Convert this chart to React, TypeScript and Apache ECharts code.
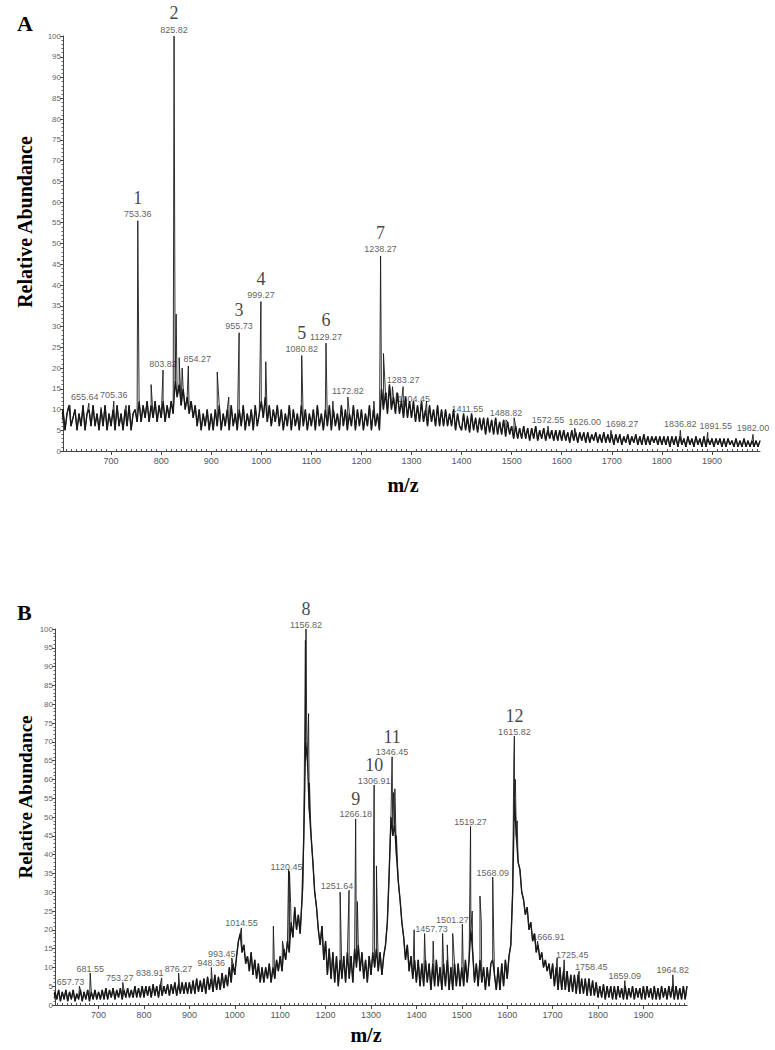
import React, { useEffect, useRef } from "react";
import * as echarts from "echarts";

// ---------- data ----------
const MZ_MIN = 604;
const MZ_MAX = 1996;
const BASE_START = 600; // baseline sampled every 4 m/z
const BASE_STEP = 4;
const X_TICKS = [700, 800, 900, 1000, 1100, 1200, 1300, 1400, 1500, 1600, 1700, 1800, 1900];
const Y_TICKS = [0, 5, 10, 15, 20, 25, 30, 35, 40, 45, 50, 55, 60, 65, 70, 75, 80, 85, 90, 95, 100];

// Panel A baseline (one row = 100 m/z, 25 samples)
const baselineA: number[][] = [
  [6, 10, 5, 9, 11, 6, 8, 10, 5, 9, 6, 11, 5, 9, 10, 6, 11, 6, 9, 5, 10, 6, 11, 5, 9],
  [6, 10, 5, 11, 6, 9, 5, 10, 6, 11, 5, 9, 10, 7, 12, 7, 11, 8, 12, 7, 11, 8, 12, 7, 11],
  [8, 12, 7, 11, 8, 12, 9, 17, 13, 16, 11, 15, 10, 13, 9, 12, 8, 11, 6, 10, 5, 9, 6, 10, 5],
  [9, 5, 10, 6, 11, 5, 9, 6, 10, 5, 11, 6, 9, 5, 10, 6, 11, 5, 9, 6, 10, 5, 11, 6, 9],
  [12, 8, 13, 7, 11, 6, 10, 7, 11, 6, 10, 5, 9, 6, 11, 5, 10, 6, 9, 5, 11, 6, 10, 5, 9],
  [6, 10, 5, 11, 6, 9, 5, 10, 6, 11, 5, 10, 6, 9, 5, 11, 6, 10, 5, 9, 6, 11, 5, 10, 6],
  [10, 5, 9, 6, 11, 5, 10, 6, 9, 5, 15, 10, 14, 9, 16, 10, 13, 9, 14, 9, 12, 8, 13, 8, 12],
  [8, 12, 7, 11, 7, 12, 7, 10, 6, 11, 7, 10, 6, 11, 6, 10, 6, 10, 6, 9, 6, 10, 5, 9, 6],
  [5, 9, 5, 8, 4.5, 9, 5, 8, 4.5, 8, 5, 8, 4, 8, 4.5, 7.5, 4, 8, 4, 7, 4, 7.5, 3.5, 7, 4],
  [6, 3, 6, 3, 5.5, 3, 6, 3, 5.5, 2.5, 5.5, 3, 6, 2.5, 5, 3, 5.5, 2.5, 5, 3, 5, 2.5, 5, 2.5, 5],
  [2.5, 5, 2.5, 4.5, 2, 5, 2.5, 4.5, 2, 4.5, 2.5, 4.5, 2, 4.5, 2, 4, 2.5, 4.5, 2, 4, 2, 4.5, 2, 4, 2],
  [4, 1.5, 4, 2, 4, 1.5, 3.5, 2, 4, 1.5, 3.5, 2, 4, 1.5, 3.5, 1.5, 4, 1.5, 3.5, 1.5, 3.5, 2, 3.5, 1.5, 3.5],
  [1.5, 3.5, 1.5, 3.5, 1, 3.5, 1.5, 3.5, 1, 3.5, 1.5, 3, 1, 3.5, 1.5, 3, 1, 3.5, 1.5, 3, 1, 3.5, 1, 3, 1.5],
  [3, 1, 3, 1.5, 3, 1, 3, 1, 3, 1.5, 2.5, 1, 3, 1, 2.5, 1, 3, 1, 2.5, 1, 2.5, 1, 2.5, 1, 2.5],
];

// Panel A peaks [m/z, relative abundance]
const peaksA: number[][] = [
  [618, 11], [655.64, 11.5], [680, 10.5], [705.36, 12], [730, 11], [753.36, 55.5], [780, 16],
  [803.82, 19.5], [825.82, 100], [830, 33], [836, 22.5], [842, 20], [854.27, 20.5], [912, 19],
  [935, 13], [955.73, 28.5], [999.27, 36], [1009, 21.5], [1080.82, 23], [1129.27, 26], [1143, 12],
  [1172.82, 13], [1225, 12], [1238.27, 47], [1244, 23.5], [1250, 14], [1256, 16], [1262, 15.5],
  [1270, 14], [1283.27, 15.5], [1304.45, 11], [1330, 12], [1411.55, 8.5], [1488.82, 7.5], [1505, 8],
  [1572.55, 6], [1626.0, 5.5], [1698.27, 5], [1836.82, 5], [1891.55, 4.5], [1982.0, 4],
];
const labeledA = [655.64, 705.36, 753.36, 803.82, 825.82, 854.27, 955.73, 999.27, 1080.82, 1129.27,
  1172.82, 1238.27, 1283.27, 1304.45, 1411.55, 1488.82, 1572.55, 1626.0, 1698.27, 1836.82, 1891.55, 1982.0];
const numberedA: [string, number][] = [["1", 753.36], ["2", 825.82], ["3", 955.73], ["4", 999.27], ["5", 1080.82], ["6", 1129.27], ["7", 1238.27]];

// Panel B baseline
const baselineB: number[][] = [
  [1, 3.5, 1.5, 4, 1, 3.5, 1.5, 4, 1, 3.5, 1.5, 4, 1, 3, 1.5, 4, 1, 3.5, 1.5, 4, 1, 3.5, 1.5, 4, 1.5],
  [3.5, 1.5, 4, 1.5, 4.5, 1.5, 4, 2, 4.5, 1.5, 4, 2, 4.5, 1.5, 4, 2, 4.5, 2, 4, 2, 5, 2, 4.5, 2, 5],
  [2, 5, 2.5, 5, 2, 5.5, 2.5, 5, 2, 5.5, 2.5, 5, 3, 5.5, 2.5, 5.5, 3, 6, 2.5, 5.5, 3, 6, 3, 6, 3],
  [6, 3, 6.5, 3, 7, 3.5, 6.5, 3.5, 7, 3, 7.5, 4, 7, 3.5, 8, 4, 7.5, 4, 8.5, 4.5, 8, 5, 10, 6, 11],
  [8, 13, 17, 19, 14, 16, 11, 13, 9, 14, 8, 12, 7, 11, 6, 10, 6, 10, 7, 11, 6, 10, 7, 12, 9],
  [13, 9, 15, 12, 17, 14, 22, 18, 26, 20, 24, 19, 28, 45, 70, 65, 52, 45, 38, 30, 26, 20, 16, 21, 12],
  [17, 8, 15, 7, 14, 6, 13, 5, 12, 7, 13, 6, 14, 7, 13, 6, 15, 10, 16, 9, 14, 7, 12, 6, 13],
  [8, 14, 10, 15, 9, 14, 8, 13, 16, 22, 35, 50, 45, 48, 40, 33, 28, 22, 18, 12, 16, 9, 13, 7, 12],
  [6, 12, 5, 11, 5, 12, 6, 11, 4, 11, 5, 12, 5, 10, 4, 11, 5, 12, 4, 10, 4, 11, 5, 11, 5],
  [10, 5, 12, 6, 12, 20, 14, 6, 11, 5, 12, 6, 10, 4, 10, 5, 11, 12, 8, 4, 10, 4, 11, 5, 12],
  [7, 13, 16, 30, 55, 45, 38, 36, 30, 28, 24, 26, 20, 22, 17, 19, 14, 16, 12, 14, 10, 12, 9, 11, 7],
  [11, 5, 10, 4, 10, 4, 9, 4, 9, 3.5, 8, 3.5, 8, 3, 8, 3, 7, 3, 7, 2.5, 7, 2.5, 6.5, 2.5, 6],
  [2, 5, 2, 5.5, 1.5, 5, 2, 5, 1.5, 5, 1.5, 5, 2, 4.5, 1.5, 5, 1.5, 4.5, 2, 5, 1.5, 4.5, 2, 4.5, 1.5],
  [5, 1.5, 5, 2, 4.5, 1.5, 5, 1.5, 4.5, 1.5, 5, 2, 4.5, 1.5, 5, 2, 5, 1.5, 5, 1.5, 4.5, 1.5, 5, 1.5, 5],
];

const peaksB: number[][] = [
  [657.73, 5], [681.55, 8.5], [753.27, 6], [838.91, 7.2], [876.27, 8.5], [948.36, 10],
  [993.45, 12.5], [1014.55, 20.5], [1085, 21], [1105, 17], [1118.5, 36], [1120.45, 35.5],
  [1123, 27], [1150, 31], [1155.5, 97], [1156.82, 100], [1158.5, 72], [1162.5, 77.5],
  [1164.5, 59], [1232, 30], [1251.64, 30.5], [1266.18, 49.5], [1270, 27.5], [1306.91, 58.5],
  [1312, 37], [1346.45, 66], [1349.5, 56.5], [1352.5, 57.5], [1356, 45], [1395, 20],
  [1418, 19], [1437, 17], [1457.73, 19], [1468, 16], [1480, 19], [1501.27, 21.5],
  [1519.27, 47.5], [1523, 25], [1540, 29], [1543, 22], [1568.09, 34], [1570, 20],
  [1614.5, 65], [1615.82, 71.5], [1618, 60], [1622, 49], [1666.91, 17], [1710, 12.5],
  [1725.45, 12], [1758.45, 9], [1859.09, 6.5], [1964.82, 8],
];
const labeledB = [657.73, 681.55, 753.27, 838.91, 876.27, 948.36, 993.45, 1014.55, 1120.45, 1156.82,
  1251.64, 1266.18, 1306.91, 1346.45, 1457.73, 1501.27, 1519.27, 1568.09, 1615.82, 1666.91,
  1725.45, 1758.45, 1859.09, 1964.82];
const numberedB: [string, number][] = [["8", 1156.82], ["9", 1266.18], ["10", 1306.91], ["11", 1346.45], ["12", 1615.82]];

// ---------- styling: horizontal nudges of some peak labels (px) ----------
const NUDGE_A: Record<string, number> = { "655.64": -4, "854.27": 9, "1626": 10, "1698.27": 11, "1891.55": 8 };
const NUDGE_B: Record<string, number> = {
  "657.73": -9, "753.27": -3, "838.91": -12, "993.45": -10, "1120.45": -3, "1251.64": -12,
  "1457.73": -11, "1501.27": -10, "1666.91": 11, "1725.45": 8, "1758.45": 12,
};

// ---------- helpers ----------
function baselinePts(base: number[][]) {
  return base.flat().map((v, i) => [BASE_START + i * BASE_STEP, v]);
}
function spectrum(base: number[][], peaks: number[][]) {
  const pts: number[][] = baselinePts(base);
  peaks.forEach((p) => pts.push([p[0], p[1]]));
  pts.sort((a, b) => a[0] - b[0]);
  return pts;
}
function heightOf(peaks: number[][], mz: number) {
  const p = peaks.find((q) => q[0] === mz);
  return p ? p[1] : 0;
}

const MINOR_X: number[] = [];
for (let v = 610; v < MZ_MAX; v += 10) if (v % 100 !== 0) MINOR_X.push(v);

const SERIF = "'Liberation Serif', 'DejaVu Serif', serif";
const SANS = "'Liberation Sans', Arial, sans-serif";

function panelAxes(grid: number) {
  const main = {
    type: "value", gridIndex: grid, min: MZ_MIN, max: MZ_MAX,
    axisLine: { show: true, onZero: false, lineStyle: { color: "#444", width: 1 } },
    axisTick: { show: true, length: 4, customValues: X_TICKS, lineStyle: { color: "#444" } },
    axisLabel: {
      customValues: X_TICKS, fontSize: 9, color: "#555", fontFamily: SANS, margin: 5,
      formatter: (v: number) => String(v),
    },
    splitLine: { show: false },
  };
  const minor = {
    type: "value", gridIndex: grid, min: MZ_MIN, max: MZ_MAX,
    axisLine: { show: false },
    axisTick: { show: true, length: 2, customValues: MINOR_X, lineStyle: { color: "#555" } },
    axisLabel: { show: false },
    splitLine: { show: false },
  };
  return [main, minor];
}
function yAxisFor(grid: number) {
  return {
    type: "value", gridIndex: grid, min: Y_TICKS[0], max: Y_TICKS[Y_TICKS.length - 1], interval: 5,
    axisLine: { show: true, lineStyle: { color: "#444", width: 1 } },
    axisTick: { show: true, length: 3, lineStyle: { color: "#444" } },
    minorTick: { show: true, splitNumber: 5, length: 1.5, lineStyle: { color: "#666" } },
    axisLabel: { fontSize: 8, color: "#666", fontFamily: SANS, margin: 2 },
    splitLine: { show: false },
    minorSplitLine: { show: false },
  };
}

function panelSeries(
  xIdx: number, yIdx: number, base: number[][], peaks: number[][],
  labeled: number[], numbered: [string, number][], nudge: Record<string, number>,
  mzDist: number, numDist: number
) {
  return [
    {
      type: "line", xAxisIndex: xIdx, yAxisIndex: yIdx, data: baselinePts(base),
      symbol: "none", lineStyle: { color: "#1a1a1a", width: 1.4 }, silent: true,
    },
    {
      type: "line", xAxisIndex: xIdx, yAxisIndex: yIdx, data: spectrum(base, peaks),
      symbol: "none", lineStyle: { color: "#1a1a1a", width: 0.9 }, silent: true,
    },
    {
      type: "scatter", xAxisIndex: xIdx, yAxisIndex: yIdx, symbolSize: 0, silent: true,
      data: labeled.map((mz) => ({
        value: [mz, heightOf(peaks, mz)],
        label: { offset: [nudge[String(mz)] || 0, 0] },
      })),
      label: {
        show: true, position: "top", distance: mzDist, fontSize: 9, color: "#333", fontFamily: SANS,
        formatter: (p: any) => p.value[0].toFixed(2),
      },
    },
    {
      type: "scatter", xAxisIndex: xIdx, yAxisIndex: yIdx, symbolSize: 0, silent: true,
      data: numbered.map(([n, mz]) => ({ name: n, value: [mz, heightOf(peaks, mz)] })),
      label: {
        show: true, position: "top", distance: numDist, fontSize: 18, color: "#111", fontFamily: SERIF,
        formatter: "{b}",
      },
    },
  ];
}

export default function App() {
  const ref = useRef<HTMLDivElement>(null);
  useEffect(() => {
    if (!ref.current) return;
    const chart = echarts.init(ref.current, null, { renderer: "svg" });
    const [axA, axAm] = panelAxes(0);
    const [axB, axBm] = panelAxes(1);
    chart.setOption({
      animation: false,
      backgroundColor: "#ffffff",
      grid: [
        { left: 63, top: 36, width: 697, height: 415 },
        { left: 55, top: 629, width: 632, height: 376 },
      ],
      xAxis: [axA, axAm, axB, axBm],
      yAxis: [yAxisFor(0), yAxisFor(1)],
      series: [
        ...panelSeries(0, 0, baselineA, peaksA, labeledA, numberedA, NUDGE_A, 2, 14),
        ...panelSeries(2, 1, baselineB, peaksB, labeledB, numberedB, NUDGE_B, 0, 11),
      ],
      graphic: [
        { type: "text", left: 17, top: 12, style: { text: "A", font: `bold 22px ${SERIF}`, fill: "#000" } },
        { type: "text", left: 17, top: 601, style: { text: "B", font: `bold 22px ${SERIF}`, fill: "#000" } },
        {
          type: "text", x: 25, y: 222, rotation: Math.PI / 2,
          style: { text: "Relative Abundance", font: `bold 20px ${SERIF}`, fill: "#000", align: "center", verticalAlign: "middle" },
        },
        {
          type: "text", x: 25, y: 797, rotation: Math.PI / 2,
          style: { text: "Relative Abundance", font: `bold 19px ${SERIF}`, fill: "#000", align: "center", verticalAlign: "middle" },
        },
        {
          type: "text", x: 403, y: 485,
          style: { text: "m/z", font: `bold 20px ${SERIF}`, fill: "#000", align: "center", verticalAlign: "middle" },
        },
        {
          type: "text", x: 366, y: 1035,
          style: { text: "m/z", font: `bold 20px ${SERIF}`, fill: "#000", align: "center", verticalAlign: "middle" },
        },
      ],
    });
    return () => chart.dispose();
  }, []);
  return (
    <div
      ref={ref}
      style={{ position: "absolute", left: 0, top: 0, width: 775, height: 1050, background: "#fff" }}
    />
  );
}
